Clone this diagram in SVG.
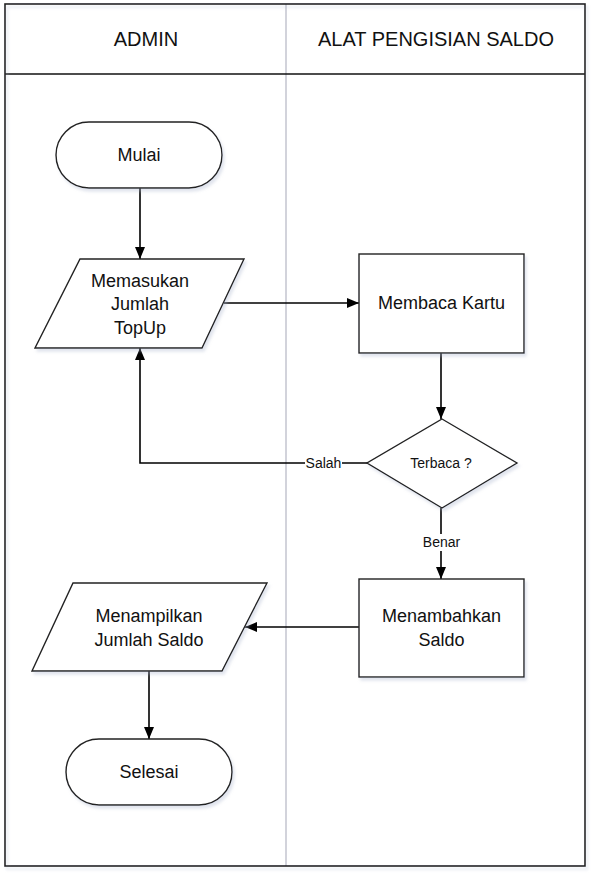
<svg xmlns="http://www.w3.org/2000/svg" width="592" height="877" viewBox="0 0 592 877">
  <defs>
    <marker id="arrow" markerUnits="userSpaceOnUse" markerWidth="12" markerHeight="10" refX="12" refY="5" orient="auto">
      <path d="M0,0 L12,5 L0,10 z" fill="#000"/>
    </marker>
    <filter id="shadow" x="-10%" y="-10%" width="130%" height="130%">
      <feDropShadow dx="2" dy="3" stdDeviation="1.5" flood-color="#a8b4cc" flood-opacity="0.35"/>
    </filter>
  </defs>
  <style>
    .shape { fill: #fff; stroke: #222; stroke-width: 1.4; filter: url(#shadow); }
    .conn { fill: none; stroke: #000; stroke-width: 1.6; }
    .txt { font-family: "Liberation Sans", Arial, sans-serif; font-size: 18px; fill: #111; text-anchor: middle; }
    .hdr { font-family: "Liberation Sans", Arial, sans-serif; font-size: 20px; fill: #111; text-anchor: middle; }
    .lbl { font-family: "Liberation Sans", Arial, sans-serif; font-size: 14px; fill: #111; text-anchor: middle; }
  </style>
  <rect width="592" height="877" fill="#fff"/>

  <g id="swimlanes">
    <line x1="286" y1="4" x2="286" y2="866" stroke="#d2d3db" stroke-width="2"/>
    <line x1="5" y1="74" x2="585" y2="74" stroke="#111" stroke-width="1.5"/>
    <rect x="5" y="4" width="580" height="862" fill="none" stroke="#222" stroke-width="1.6" filter="url(#shadow)"/>
    <text class="hdr" x="146" y="46">ADMIN</text>
    <text class="hdr" x="436" y="46">ALAT PENGISIAN SALDO</text>
  </g>

  <g id="connectors">
    <path class="conn" d="M140,188 L140,259" marker-end="url(#arrow)"/>
    <path class="conn" d="M224,303 L359,303" marker-end="url(#arrow)"/>
    <path class="conn" d="M441,353 L441,419" marker-end="url(#arrow)"/>
    <path class="conn" d="M367,463 L140,463 L140,348" marker-end="url(#arrow)"/>
    <path class="conn" d="M441,508 L441,579" marker-end="url(#arrow)"/>
    <path class="conn" d="M359,627 L245,627" marker-end="url(#arrow)"/>
    <path class="conn" d="M149,671 L149,739" marker-end="url(#arrow)"/>
    <rect x="305" y="455" width="37" height="17" fill="#fff"/>
    <text class="lbl" x="323.5" y="468">Salah</text>
    <rect x="421" y="534" width="41" height="17" fill="#fff"/>
    <text class="lbl" x="441.5" y="547">Benar</text>
  </g>

  <g id="mulai">
    <rect class="shape" x="56" y="122" width="166" height="66" rx="33" ry="33"/>
    <text class="txt" x="139" y="161">Mulai</text>
  </g>

  <g id="memasukan">
    <polygon class="shape" points="80,259 244,259 202,348 35,348"/>
    <text class="txt" x="140" y="287">Memasukan</text>
    <text class="txt" x="140" y="310">Jumlah</text>
    <text class="txt" x="140" y="334">TopUp</text>
  </g>

  <g id="membaca">
    <rect class="shape" x="359" y="254" width="165" height="99"/>
    <text class="txt" x="441.5" y="309">Membaca Kartu</text>
  </g>

  <g id="terbaca">
    <polygon class="shape" points="442,419 517,463 442,508 367,463"/>
    <text class="lbl" x="441" y="468">Terbaca ?</text>
  </g>

  <g id="menambahkan">
    <rect class="shape" x="359" y="579" width="165" height="98"/>
    <text class="txt" x="441.5" y="622">Menambahkan</text>
    <text class="txt" x="441.5" y="646">Saldo</text>
  </g>

  <g id="menampilkan">
    <polygon class="shape" points="73,583 267,583 222,671 32,671"/>
    <text class="txt" x="149" y="622">Menampilkan</text>
    <text class="txt" x="149" y="646">Jumlah Saldo</text>
  </g>

  <g id="selesai">
    <rect class="shape" x="66" y="739" width="166" height="66" rx="33" ry="33"/>
    <text class="txt" x="149" y="778">Selesai</text>
  </g>
</svg>
